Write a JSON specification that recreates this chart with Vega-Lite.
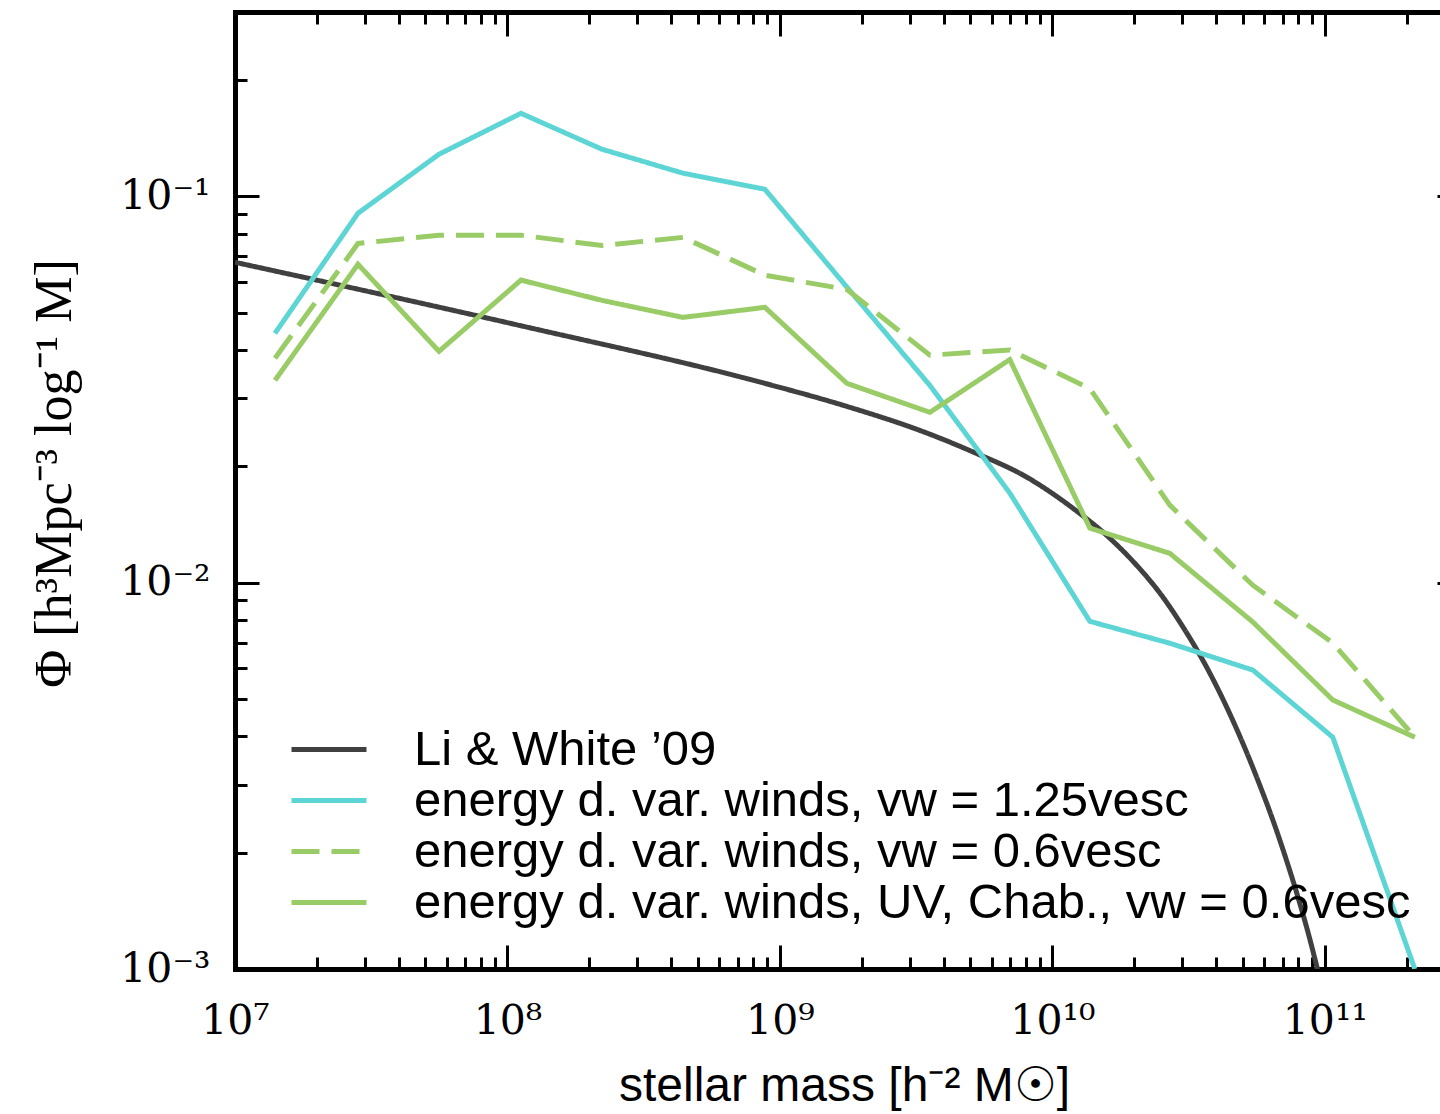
{
  "$schema": "https://vega.github.io/schema/vega-lite/v6.json",
  "width": 1226,
  "height": 957,
  "autosize": {"type": "none"},
  "padding": {"left": 235, "top": 12, "right": 0, "bottom": 145},
  "background": "white",
  "config": {"view": {"stroke": null}, "axis": {"grid": false}},
  "data": {"values": [
    {"series": "Li & White ’09", "mass": 1e7, "phi": 0.0675},
    {"series": "Li & White ’09", "mass": 1.112e8, "phi": 0.0463},
    {"series": "Li & White ’09", "mass": 8.81e8, "phi": 0.0328},
    {"series": "Li & White ’09", "mass": 1.702e9, "phi": 0.0288},
    {"series": "Li & White ’09", "mass": 3.46e9, "phi": 0.0244},
    {"series": "Li & White ’09", "mass": 5.11e9, "phi": 0.0218},
    {"series": "Li & White ’09", "mass": 8.05e9, "phi": 0.01876},
    {"series": "Li & White ’09", "mass": 1.23e10, "phi": 0.01531},
    {"series": "Li & White ’09", "mass": 1.626e10, "phi": 0.01303},
    {"series": "Li & White ’09", "mass": 1.974e10, "phi": 0.01137},
    {"series": "Li & White ’09", "mass": 2.544e10, "phi": 0.00918},
    {"series": "Li & White ’09", "mass": 3.012e10, "phi": 0.00769},
    {"series": "Li & White ’09", "mass": 3.567e10, "phi": 0.0063},
    {"series": "Li & White ’09", "mass": 4.224e10, "phi": 0.005},
    {"series": "Li & White ’09", "mass": 5.002e10, "phi": 0.00384},
    {"series": "Li & White ’09", "mass": 5.774e10, "phi": 0.00299},
    {"series": "Li & White ’09", "mass": 6.447e10, "phi": 0.00243},
    {"series": "Li & White ’09", "mass": 7.255e10, "phi": 0.0019},
    {"series": "Li & White ’09", "mass": 8.095e10, "phi": 0.00148},
    {"series": "Li & White ’09", "mass": 8.81e10, "phi": 0.001196},
    {"series": "Li & White ’09", "mass": 9.43e10, "phi": 0.00099},

    {"series": "energy d. var. winds, vw = 1.25vesc", "mass": 1.402e7, "phi": 0.0442},
    {"series": "energy d. var. winds, vw = 1.25vesc", "mass": 2.827e7, "phi": 0.0904},
    {"series": "energy d. var. winds, vw = 1.25vesc", "mass": 5.607e7, "phi": 0.1285},
    {"series": "energy d. var. winds, vw = 1.25vesc", "mass": 1.121e8, "phi": 0.164},
    {"series": "energy d. var. winds, vw = 1.25vesc", "mass": 2.222e8, "phi": 0.1324},
    {"series": "energy d. var. winds, vw = 1.25vesc", "mass": 4.406e8, "phi": 0.1148},
    {"series": "energy d. var. winds, vw = 1.25vesc", "mass": 8.81e8, "phi": 0.1043},
    {"series": "energy d. var. winds, vw = 1.25vesc", "mass": 1.762e9, "phi": 0.0582},
    {"series": "energy d. var. winds, vw = 1.25vesc", "mass": 3.553e9, "phi": 0.0324},
    {"series": "energy d. var. winds, vw = 1.25vesc", "mass": 6.98e9, "phi": 0.01706},
    {"series": "energy d. var. winds, vw = 1.25vesc", "mass": 1.373e10, "phi": 0.00794},
    {"series": "energy d. var. winds, vw = 1.25vesc", "mass": 2.699e10, "phi": 0.00697},
    {"series": "energy d. var. winds, vw = 1.25vesc", "mass": 5.443e10, "phi": 0.00594},
    {"series": "energy d. var. winds, vw = 1.25vesc", "mass": 1.07e11, "phi": 0.00398},
    {"series": "energy d. var. winds, vw = 1.25vesc", "mass": 2.14e11, "phi": 0.001},

    {"series": "energy d. var. winds, vw = 0.6vesc", "mass": 1.402e7, "phi": 0.0381},
    {"series": "energy d. var. winds, vw = 0.6vesc", "mass": 2.827e7, "phi": 0.0755},
    {"series": "energy d. var. winds, vw = 0.6vesc", "mass": 5.607e7, "phi": 0.0793},
    {"series": "energy d. var. winds, vw = 0.6vesc", "mass": 1.121e8, "phi": 0.0793},
    {"series": "energy d. var. winds, vw = 0.6vesc", "mass": 2.222e8, "phi": 0.0746},
    {"series": "energy d. var. winds, vw = 0.6vesc", "mass": 4.406e8, "phi": 0.0783},
    {"series": "energy d. var. winds, vw = 0.6vesc", "mass": 8.81e8, "phi": 0.0625},
    {"series": "energy d. var. winds, vw = 0.6vesc", "mass": 1.762e9, "phi": 0.0574},
    {"series": "energy d. var. winds, vw = 0.6vesc", "mass": 3.553e9, "phi": 0.0388},
    {"series": "energy d. var. winds, vw = 0.6vesc", "mass": 6.98e9, "phi": 0.04},
    {"series": "energy d. var. winds, vw = 0.6vesc", "mass": 1.373e10, "phi": 0.0318},
    {"series": "energy d. var. winds, vw = 0.6vesc", "mass": 2.699e10, "phi": 0.01587},
    {"series": "energy d. var. winds, vw = 0.6vesc", "mass": 5.443e10, "phi": 0.00985},
    {"series": "energy d. var. winds, vw = 0.6vesc", "mass": 1.07e11, "phi": 0.00698},
    {"series": "energy d. var. winds, vw = 0.6vesc", "mass": 2.14e11, "phi": 0.00398},

    {"series": "energy d. var. winds, UV, Chab., vw = 0.6vesc", "mass": 1.402e7, "phi": 0.0334},
    {"series": "energy d. var. winds, UV, Chab., vw = 0.6vesc", "mass": 2.827e7, "phi": 0.0667},
    {"series": "energy d. var. winds, UV, Chab., vw = 0.6vesc", "mass": 5.607e7, "phi": 0.0397},
    {"series": "energy d. var. winds, UV, Chab., vw = 0.6vesc", "mass": 1.121e8, "phi": 0.0607},
    {"series": "energy d. var. winds, UV, Chab., vw = 0.6vesc", "mass": 2.222e8, "phi": 0.0538},
    {"series": "energy d. var. winds, UV, Chab., vw = 0.6vesc", "mass": 4.406e8, "phi": 0.0486},
    {"series": "energy d. var. winds, UV, Chab., vw = 0.6vesc", "mass": 8.81e8, "phi": 0.0516},
    {"series": "energy d. var. winds, UV, Chab., vw = 0.6vesc", "mass": 1.762e9, "phi": 0.0328},
    {"series": "energy d. var. winds, UV, Chab., vw = 0.6vesc", "mass": 3.553e9, "phi": 0.0276},
    {"series": "energy d. var. winds, UV, Chab., vw = 0.6vesc", "mass": 6.98e9, "phi": 0.0378},
    {"series": "energy d. var. winds, UV, Chab., vw = 0.6vesc", "mass": 1.373e10, "phi": 0.01384},
    {"series": "energy d. var. winds, UV, Chab., vw = 0.6vesc", "mass": 2.699e10, "phi": 0.01191},
    {"series": "energy d. var. winds, UV, Chab., vw = 0.6vesc", "mass": 5.443e10, "phi": 0.00791},
    {"series": "energy d. var. winds, UV, Chab., vw = 0.6vesc", "mass": 1.07e11, "phi": 0.00497},
    {"series": "energy d. var. winds, UV, Chab., vw = 0.6vesc", "mass": 2.14e11, "phi": 0.00398}
  ]},
  "layer": [
    {
      "transform": [{"filter": "datum.series === 'Li & White ’09'"}],
      "mark": {"type": "line", "strokeWidth": 5, "clip": true, "interpolate": "monotone"},
      "encoding": {
        "x": {
          "field": "mass", "type": "quantitative",
          "scale": {"type": "log", "domain": [1e7, 3.162e11], "nice": false},
          "axis": {
            "orient": "bottom",
            "values": [1e7,2e7,3e7,4e7,5e7,6e7,7e7,8e7,9e7,1e8,2e8,3e8,4e8,5e8,6e8,7e8,8e8,9e8,1e9,2e9,3e9,4e9,5e9,6e9,7e9,8e9,9e9,1e10,2e10,3e10,4e10,5e10,6e10,7e10,8e10,9e10,1e11,2e11,3e11],
            "title": "stellar mass [h⁻² M☉]",
            "titleFont": "Liberation Sans", "titleFontSize": 48, "titleFontWeight": "normal", "titleColor": "black",
            "titleX": 609, "titleY": 131, "titleAlign": "center", "titleBaseline": "alphabetic",
            "domainColor": "black", "domainWidth": 5, "domainCap": "square",
            "tickColor": "black", "tickWidth": 3,
            "tickSize": {"condition": {"test": "abs(log(datum.value)/LN10 - round(log(datum.value)/LN10)) < 0.01", "value": -24}, "value": -12},
            "labelExpr": "abs(log(datum.value)/LN10 - round(log(datum.value)/LN10)) < 0.01 ? '10' + ['⁰','¹','²','³','⁴','⁵','⁶','⁷','⁸','⁹','¹⁰','¹¹'][round(log(datum.value)/LN10)] : ''",
            "labelFont": "DejaVu Serif", "labelFontSize": 41, "labelColor": "black",
            "labelBaseline": "alphabetic", "labelAlign": "center", "labelPadding": 88,
            "labelFlush": false, "labelOverlap": false
          }
        },
        "y": {
          "field": "phi", "type": "quantitative",
          "scale": {"type": "log", "domain": [0.001, 0.3], "nice": false},
          "axis": {
            "orient": "left",
            "values": [0.001,0.002,0.003,0.004,0.005,0.006,0.007,0.008,0.009,0.01,0.02,0.03,0.04,0.05,0.06,0.07,0.08,0.09,0.1,0.2],
            "title": "Φ [h³Mpc⁻³ log⁻¹ M]",
            "titleFont": "Liberation Serif", "titleFontSize": 52, "titleFontWeight": "normal", "titleColor": "black",
            "titleX": -181, "titleY": 461, "titleAngle": -90, "titleAlign": "center", "titleBaseline": "middle",
            "domainColor": "black", "domainWidth": 5, "domainCap": "square",
            "tickColor": "black", "tickWidth": 3,
            "tickSize": {"condition": {"test": "abs(log(datum.value)/LN10 - round(log(datum.value)/LN10)) < 0.01", "value": -24}, "value": -12},
            "labelExpr": "abs(log(datum.value)/LN10 - round(log(datum.value)/LN10)) < 0.01 ? '10⁻' + ['⁰','¹','²','³'][-round(log(datum.value)/LN10)] : ''",
            "labelFont": "DejaVu Serif", "labelFontSize": 41, "labelColor": "black",
            "labelBaseline": "middle", "labelAlign": "right", "labelPadding": 49,
            "labelFlush": false, "labelOverlap": false
          }
        },
        "color": {
          "field": "series", "type": "nominal",
          "scale": {
            "domain": ["Li & White ’09", "energy d. var. winds, vw = 1.25vesc", "energy d. var. winds, vw = 0.6vesc", "energy d. var. winds, UV, Chab., vw = 0.6vesc"],
            "range": ["#404040", "#5dd5d5", "#99cc66", "#99cc66"]
          },
          "legend": {
            "orient": "none", "legendX": 54, "legendY": 712, "title": null, "padding": 0,
            "symbolType": "stroke", "symbolSize": 5625, "symbolStrokeWidth": 5,
            "labelFont": "Liberation Sans", "labelFontSize": 49, "labelColor": "black",
            "labelOffset": 45, "labelLimit": 1400, "rowPadding": 0, "clipHeight": 51
          }
        },
        "strokeDash": {
          "field": "series", "type": "nominal",
          "scale": {
            "domain": ["Li & White ’09", "energy d. var. winds, vw = 1.25vesc", "energy d. var. winds, vw = 0.6vesc", "energy d. var. winds, UV, Chab., vw = 0.6vesc"],
            "range": [[1, 0], [1, 0], [28, 12], [1, 0]]
          },
          "legend": {
            "orient": "none", "legendX": 54, "legendY": 712, "title": null, "padding": 0,
            "symbolType": "stroke", "symbolSize": 5625, "symbolStrokeWidth": 5,
            "labelFont": "Liberation Sans", "labelFontSize": 49, "labelColor": "black",
            "labelOffset": 45, "labelLimit": 1400, "rowPadding": 0, "clipHeight": 51
          }
        }
      }
    },
    {
      "transform": [{"filter": "datum.series !== 'Li & White ’09'"}],
      "mark": {"type": "line", "strokeWidth": 5, "clip": true},
      "encoding": {
        "x": {"field": "mass", "type": "quantitative", "scale": {"type": "log", "domain": [1e7, 3.162e11], "nice": false}, "axis": null},
        "y": {"field": "phi", "type": "quantitative", "scale": {"type": "log", "domain": [0.001, 0.3], "nice": false}, "axis": null},
        "color": {"field": "series", "type": "nominal"},
        "strokeDash": {"field": "series", "type": "nominal"}
      }
    },
    {
      "mark": {"type": "line", "opacity": 0},
      "encoding": {
        "x": {
          "field": "mass", "type": "quantitative",
          "scale": {"type": "log", "domain": [1e7, 3.162e11], "nice": false},
          "axis": {
            "orient": "top", "title": null, "labels": false,
            "values": [1e7,2e7,3e7,4e7,5e7,6e7,7e7,8e7,9e7,1e8,2e8,3e8,4e8,5e8,6e8,7e8,8e8,9e8,1e9,2e9,3e9,4e9,5e9,6e9,7e9,8e9,9e9,1e10,2e10,3e10,4e10,5e10,6e10,7e10,8e10,9e10,1e11,2e11,3e11],
            "domainColor": "black", "domainWidth": 5, "domainCap": "square",
            "tickColor": "black", "tickWidth": 3,
            "tickSize": {"condition": {"test": "abs(log(datum.value)/LN10 - round(log(datum.value)/LN10)) < 0.01", "value": -24}, "value": -12}
          }
        },
        "y": {
          "field": "phi", "type": "quantitative",
          "scale": {"type": "log", "domain": [0.001, 0.3], "nice": false},
          "axis": {
            "orient": "right", "title": null, "labels": false,
            "values": [0.001,0.002,0.003,0.004,0.005,0.006,0.007,0.008,0.009,0.01,0.02,0.03,0.04,0.05,0.06,0.07,0.08,0.09,0.1,0.2],
            "domainColor": "black", "domainWidth": 5, "domainCap": "square",
            "tickColor": "black", "tickWidth": 3,
            "tickSize": {"condition": {"test": "abs(log(datum.value)/LN10 - round(log(datum.value)/LN10)) < 0.01", "value": -24}, "value": -12}
          }
        }
      }
    }
  ],
  "resolve": {"axis": {"x": "independent", "y": "independent"}}
}
